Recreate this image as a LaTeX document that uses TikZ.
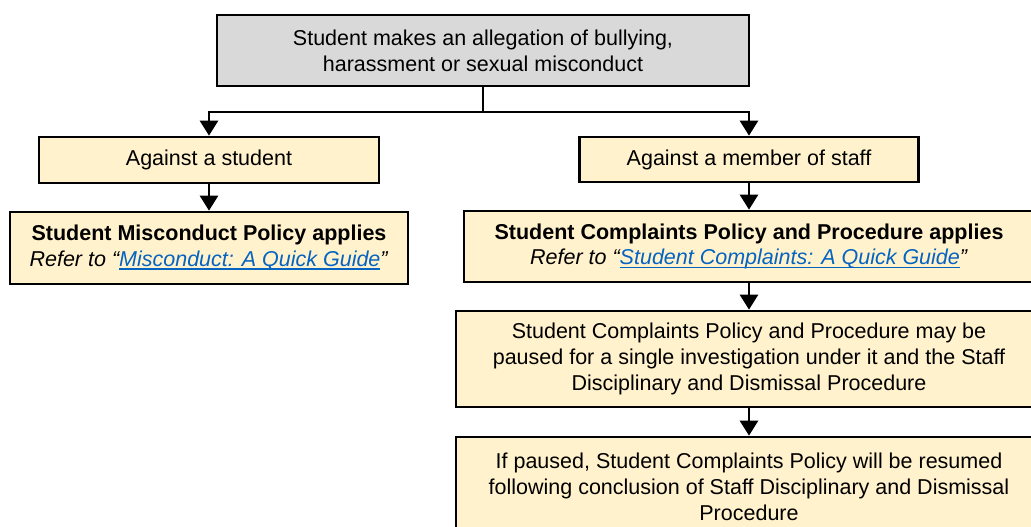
\documentclass[tikz,border=0pt]{standalone}
\usepackage{fontspec}
\setmainfont{Liberation Sans}
\usetikzlibrary{arrows.meta}
\definecolor{boxgray}{HTML}{D9D9D9}
\definecolor{boxyellow}{HTML}{FFF2CC}
\definecolor{linkblue}{HTML}{0563C1}
\newcommand{\lnk}[1]{{\color{linkblue}\setbox0\hbox{#1}\rlap{\rule[-3pt]{\wd0}{1.4pt}}\box0}}
\tikzset{
  flowbox/.style={draw=black, line width=2.7pt, fill=boxyellow, align=center,
    inner sep=0pt, font=\fontsize{21.5}{25.8}\selectfont},
  graybox/.style={flowbox, fill=boxgray},
  arr/.style={line width=2.7pt, -{Triangle[width=18pt,length=15pt]}},
  conn/.style={line width=2.7pt}
}
\begin{document}
\begin{tikzpicture}[x=1pt,y=-1pt]
\useasboundingbox (0,0) rectangle (1031,527);
\node[graybox, minimum width=532pt, minimum height=71pt] (top) at (483,50.5)
  {Student makes an allegation of bullying,\\harassment or sexual misconduct};
\node[flowbox, minimum width=340pt, minimum height=46pt] (stud) at (209,160)
  {Against a student};
\node[flowbox, minimum width=339pt, minimum height=45pt] (staff) at (749,159.5)
  {Against a member of staff};
\node[flowbox, minimum width=398pt, minimum height=72pt] (misc) at (209,248)
  {\textbf{Student Misconduct Policy applies}\\\textit{Refer to “\lnk{Misconduct: A Quick Guide}”}};
\node[flowbox, minimum width=570pt, minimum height=71pt] (compl) at (749,246.5)
  {\textbf{Student Complaints Policy and Procedure applies}\\\textit{Refer to “\lnk{Student Complaints: A Quick Guide}”}};
\node[flowbox, minimum width=586pt, minimum height=96pt] (paused) at (749,359)
  {Student Complaints Policy and Procedure may be\\paused for a single investigation under it and the Staff\\Disciplinary and Dismissal Procedure};
\node[flowbox, minimum width=586pt, minimum height=100pt] (ifp) at (749,487)
  {If paused, Student Complaints Policy will be resumed\\following conclusion of Staff Disciplinary and Dismissal\\Procedure};
\coordinate (j) at (483,112);
\draw[conn] (top.south) -- (j);
\draw[arr] (j) -| (stud.north);
\draw[arr] (j) -| (staff.north);
\draw[arr] (stud.south) -- (misc.north);
\draw[arr] (staff.south) -- (compl.north);
\draw[arr] (compl.south) -- (paused.north);
\draw[arr] (paused.south) -- (ifp.north);
\end{tikzpicture}
\end{document}
